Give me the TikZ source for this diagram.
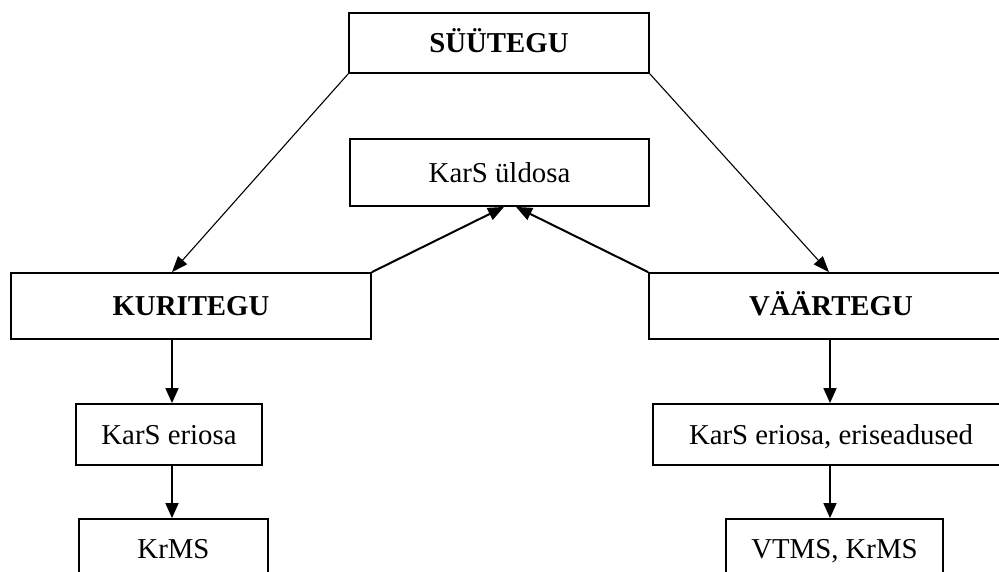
\documentclass[tikz,border=0pt]{standalone}
\usepackage{fontspec}
\setmainfont{Liberation Serif}
\usetikzlibrary{arrows.meta}
\begin{document}
\begin{tikzpicture}[x=1pt,y=-1pt,
  box/.style={draw, line width=1.8pt, inner sep=0pt, text height=19pt, text depth=0pt,
    font=\fontsize{28.8}{34}\selectfont},
  bbox/.style={box, font=\fontsize{28.8}{34}\selectfont\bfseries},
  arr/.style={-{Triangle[length=15pt,width=13pt]}, line width=1.6pt},
  thinarr/.style={-{Triangle[length=16pt,width=12pt]}, line width=1.1pt},
  thickarr/.style={-{Triangle[length=16pt,width=13pt]}, line width=2pt}]
\useasboundingbox (0,0) rectangle (999,571);
\clip (0,0) rectangle (999,571);
\fill[white] (0,0) rectangle (999,571);

\node[bbox, minimum width=300pt, minimum height=60pt] (S) at (499,43) {SÜÜTEGU};
\node[box, minimum width=299pt, minimum height=67pt] (U) at (499.5,172.5) {KarS üldosa};
\node[bbox, minimum width=360pt, minimum height=66pt] (K) at (191,306) {KURITEGU};
\node[bbox, minimum width=364pt, minimum height=66pt] (V) at (831,306) {VÄÄRTEGU};
\node[box, minimum width=186pt, minimum height=61pt] (KE) at (169,434.5) {KarS eriosa};
\node[box, minimum width=356pt, minimum height=61pt] (VE) at (831,434.5) {KarS eriosa, eriseadused};
\node[box, minimum width=189pt, minimum height=60pt] (KM) at (173.5,549) {KrMS};
\node[box, minimum width=217pt, minimum height=60pt] (VM) at (834.5,549) {VTMS, KrMS};

% diagonals from SÜÜTEGU
\draw[thinarr] (S.south west) -- (K.north -| 172,0);
\draw[thinarr] (S.south east) -- (V.north -| 829,0);
% thick diagonals into KarS üldosa
\draw[thickarr] (K.north east) -- (U.south -| 504,0);
\draw[thickarr] (V.north west) -- (U.south -| 516,0);
% verticals
\draw[arr] (K.south -| 172,0) -- (KE.north -| 172,0);
\draw[arr] (KE.south -| 172,0) -- (KM.north -| 172,0);
\draw[arr] (V.south -| 830,0) -- (VE.north -| 830,0);
\draw[arr] (VE.south -| 830,0) -- (VM.north -| 830,0);
\end{tikzpicture}
\end{document}
